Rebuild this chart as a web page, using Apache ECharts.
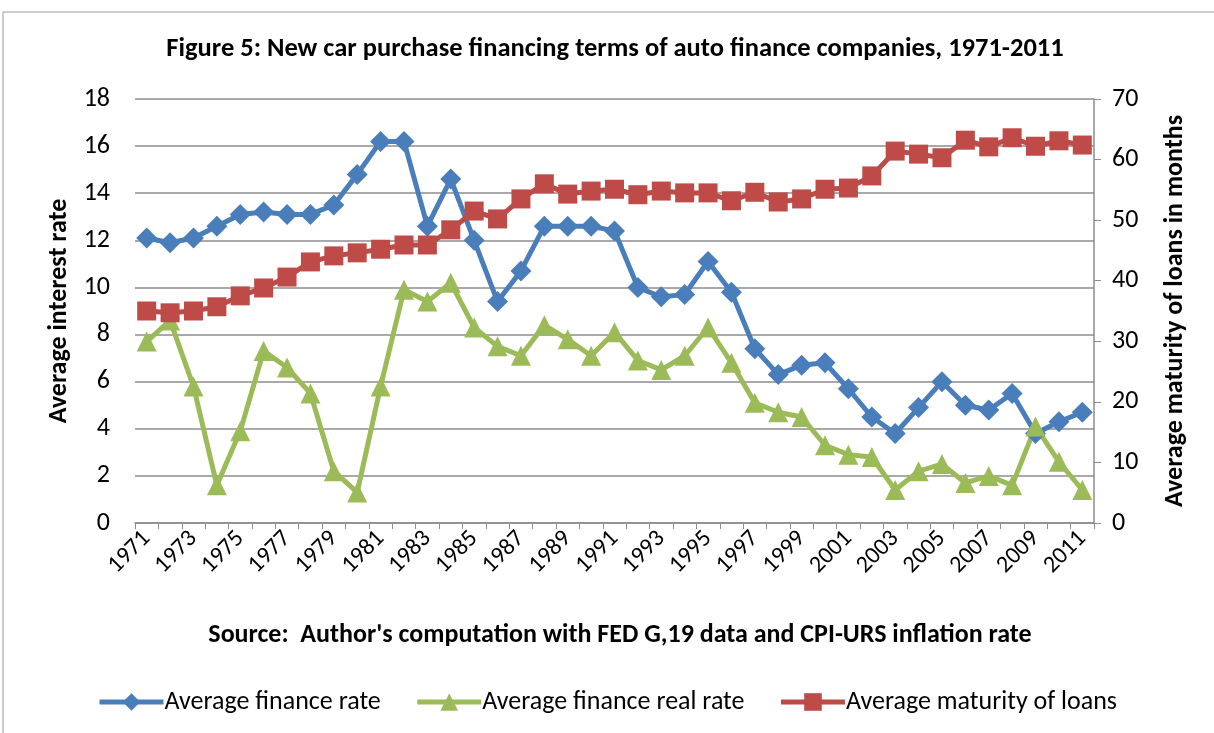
<!DOCTYPE html>
<html>
<head>
<meta charset="utf-8">
<script src="https://cdn.jsdelivr.net/npm/echarts@6/dist/echarts.min.js"></script>
<style>
  html, body { margin: 0; padding: 0; background: #fff; }
  #chart { width: 1214px; height: 733px; }
</style>
</head>
<body>
<div id="chart"></div>
<script>
// years on the category axis
const years = [];
for (let y = 1971; y <= 2011; y++) years.push(String(y));

// average finance rate (%)
const financeRate = [12.1, 11.9, 12.1, 12.6, 13.1, 13.2, 13.1, 13.1, 13.5, 14.8,
  16.2, 16.2, 12.6, 14.6, 12.0, 9.4, 10.7, 12.6, 12.6, 12.6,
  12.4, 10.0, 9.6, 9.7, 11.1, 9.8, 7.4, 6.3, 6.7, 6.8,
  5.7, 4.5, 3.8, 4.9, 6.0, 5.0, 4.8, 5.5, 3.8, 4.3, 4.7];

// average finance real rate (%)
const realRate = [7.7, 8.6, 5.8, 1.6, 3.9, 7.3, 6.6, 5.5, 2.2, 1.3,
  5.8, 9.9, 9.4, 10.2, 8.3, 7.5, 7.1, 8.4, 7.8, 7.1,
  8.1, 6.9, 6.5, 7.1, 8.3, 6.8, 5.1, 4.7, 4.5, 3.3,
  2.9, 2.8, 1.4, 2.2, 2.5, 1.7, 2.0, 1.6, 4.1, 2.6, 1.4];

// average maturity of loans (months)
const maturity = [35.0, 34.7, 35.0, 35.7, 37.5, 38.8, 40.6, 43.1, 44.1, 44.6,
  45.2, 45.9, 45.9, 48.4, 51.5, 50.2, 53.5, 56.0, 54.3, 54.8,
  55.1, 54.2, 54.8, 54.5, 54.5, 53.2, 54.6, 53.0, 53.5, 55.1,
  55.3, 57.3, 61.4, 60.9, 60.3, 63.2, 62.1, 63.6, 62.2, 63.1, 62.4];

const font = 'Carlito, "Open Sans", "Liberation Sans", sans-serif';
const chart = echarts.init(document.getElementById('chart'));

chart.setOption({
  animation: false,
  textStyle: { fontFamily: font },
  graphic: [{
    type: 'rect',
    shape: { x: 3, y: 12, width: 1260, height: 760 },
    style: { fill: 'none', stroke: '#9a9a9a', lineWidth: 1 },
    silent: true
  }],
  title: [{
    text: 'Figure 5: New car purchase financing terms of auto finance companies, 1971-2011',
    left: 610, top: 31, textAlign: 'center',
    textStyle: { fontSize: 26.5, fontWeight: 'bold', color: '#000', fontFamily: font }
  }, {
    text: "Source:  Author's computation with FED G,19 data and CPI-URS inflation rate",
    left: 615, top: 617, textAlign: 'center',
    textStyle: { fontSize: 26, fontWeight: 'bold', color: '#000', fontFamily: font }
  }],
  legend: {
    top: 684, left: 'center',
    itemWidth: 64, itemHeight: 22, itemGap: 34,
    lineStyle: { width: 5 },
    textStyle: { fontSize: 26, color: '#000', fontFamily: font, padding: [0, 0, 0, -4] },
    data: ['Average finance rate', 'Average finance real rate', 'Average maturity of loans']
  },
  grid: { left: 135, right: 120, top: 99, bottom: 210 },
  xAxis: {
    type: 'category',
    data: years,
    boundaryGap: true,
    axisLine: { lineStyle: { color: '#8c8c8c', width: 1.5 } },
    axisTick: { show: true, alignWithLabel: false, interval: 0, length: 6, lineStyle: { color: '#8c8c8c' } },
    axisLabel: { interval: 1, rotate: 45, fontSize: 24, color: '#000', margin: 12, fontFamily: font }
  },
  yAxis: [{
    type: 'value', min: 0, max: 18, interval: 2,
    name: 'Average interest rate', nameLocation: 'middle', nameGap: 62, nameRotate: 90,
    nameTextStyle: { fontSize: 26, fontWeight: 'bold', color: '#000', fontFamily: font },
    axisLine: { show: false }, axisTick: { show: false },
    axisLabel: { fontSize: 26, color: '#000', margin: 25, fontFamily: font },
    splitLine: { lineStyle: { color: '#8c8c8c', width: 1.5 } }
  }, {
    type: 'value', min: 0, max: 70, interval: 10, position: 'right',
    name: 'Average maturity of loans in months', nameLocation: 'middle', nameGap: 68, nameRotate: 90,
    nameTextStyle: { fontSize: 26, fontWeight: 'bold', color: '#000', fontFamily: font },
    axisLine: { show: true, lineStyle: { color: '#8c8c8c', width: 1.5 } },
    axisTick: { show: true, length: 7, lineStyle: { color: '#8c8c8c' } },
    axisLabel: { fontSize: 26, color: '#000', margin: 18, fontFamily: font },
    splitLine: { show: false }
  }],
  series: [{
    name: 'Average finance rate', type: 'line', yAxisIndex: 0, data: financeRate,
    symbol: 'diamond', symbolSize: 21, showAllSymbol: true,
    lineStyle: { color: '#4a7ebb', width: 5 },
    itemStyle: { color: '#4a7ebb' }
  }, {
    name: 'Average finance real rate', type: 'line', yAxisIndex: 0, data: realRate,
    symbol: 'triangle', symbolSize: 20, showAllSymbol: true,
    lineStyle: { color: '#9bbb59', width: 5 },
    itemStyle: { color: '#9bbb59' }
  }, {
    name: 'Average maturity of loans', type: 'line', yAxisIndex: 1, data: maturity,
    symbol: 'rect', symbolSize: 19, showAllSymbol: true,
    lineStyle: { color: '#be4b48', width: 5 },
    itemStyle: { color: '#be4b48' }
  }]
});
</script>
</body>
</html>
